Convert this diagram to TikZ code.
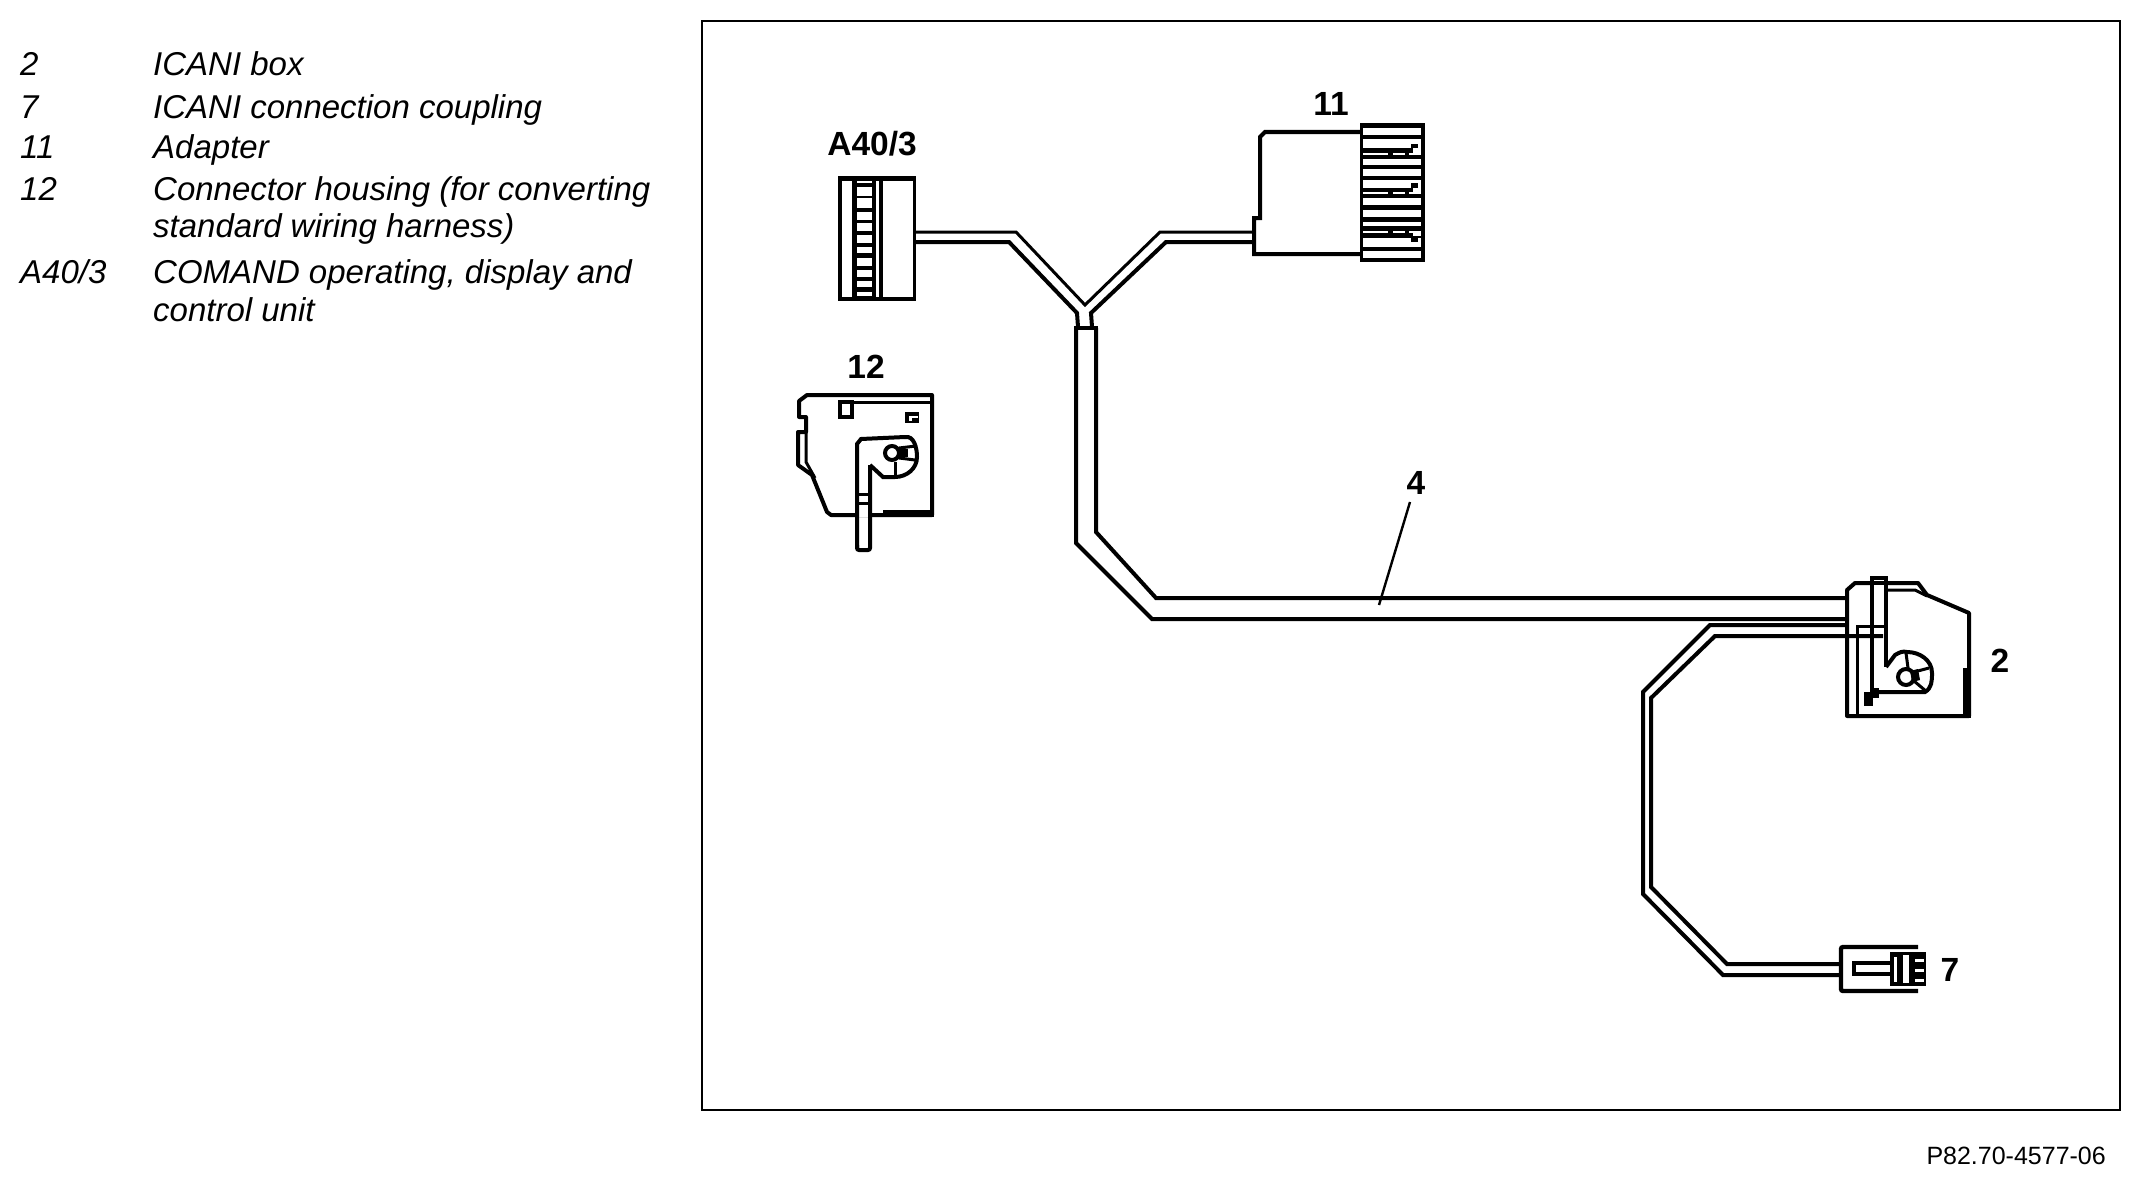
\documentclass[tikz,border=0pt]{standalone}
\usepackage{fontspec}
\setmainfont{Liberation Sans}
\begin{document}
\begin{tikzpicture}[x=1pt,y=-1pt,
  ink/.style={draw=black,line width=4pt,line join=miter,line cap=butt},
  thinink/.style={draw=black,line width=3pt},
  fatink/.style={draw=black,line width=4.4pt},
  legendtxt/.style={anchor=base west,inner sep=0pt,font=\fontsize{33}{33}\selectfont\itshape},
  partlabel/.style={inner sep=0pt,anchor=base,font=\fontsize{33.5}{33}\selectfont\bfseries},
  holes/.style={fill=white,draw=none}]
\useasboundingbox (0,0) rectangle (2140,1180);
\fill[white] (0,0) rectangle (2140,1180);
% legend
\node[legendtxt] (l2a) at (20,76) {2};
\node[legendtxt] (l2b) at (153,76) {ICANI box};
\node[legendtxt] (l7a) at (20,118) {7};
\node[legendtxt] (l7b) at (153,118) {ICANI connection coupling};
\node[legendtxt] (l11a) at (20,158) {11};
\node[legendtxt] (l11b) at (153,158) {Adapter};
\node[legendtxt] (l12a) at (20,200) {12};
\node[legendtxt] (l12b) at (153,200) {Connector housing (for converting};
\node[legendtxt] (l12c) at (153,237) {standard wiring harness)};
\node[legendtxt] (lAa) at (20,283) {A40/3};
\node[legendtxt] (lAb) at (153,283) {COMAND operating, display and};
\node[legendtxt] (lAc) at (153,321) {control unit};
% frame
\draw[black,line width=1.6pt] (702,21) rectangle (2120,1110);
\node[inner sep=0pt,anchor=base east,font=\fontsize{25}{25}\selectfont] (code) at (2106,1164) {P82.70-4577-06};
% part labels
\node[partlabel] (tA) at (872,155) {A40/3};
\node[partlabel] (t11) at (1331,116) {11};
\node[partlabel] (t12) at (866,378) {12};
\node[partlabel] (t4) at (1416,494) {4};
\node[partlabel] (t2) at (2000,672) {2};
\node[partlabel] (t7) at (1950,981) {7};
% A40/3 connector
\fill[black] (838,176) rectangle (916,301);
\fill[holes] (842,181) rectangle (852,297);
\fill[holes] (876,181) rectangle (879,297);
\fill[holes] (883,181) rectangle (913,297);
\foreach \a/\b in {181/183,187/196,198/208,212/220,223/231,235/243,247/253,258/266,270/277,281/287,292/296}
  \fill[holes] (857,\a) rectangle (872,\b);
% A40/3 to junction wire
\coordinate (aU) at (916,232); \coordinate (aL) at (916,242);
\coordinate (bU) at (1254,232); \coordinate (bL) at (1254,242);
\coordinate (jTop) at (1085,305);
\coordinate (jL) at (1078,327); \coordinate (jR) at (1092,327);
\draw[thinink] (aU) -- (1016,232) -- (jTop) -- (1160,232) -- (bU);
\draw[ink] (aL) -- (1009,242) -- (1077,313) -- (jL);
\draw[ink] (bL) -- (1166,242) -- (1091,313) -- (jR);
% adapter 11
\draw[ink] (1363,132) -- (1265,132) -- (1260,137) -- (1260,218) -- (1254,218) -- (1254,254) -- (1363,254);
\fill[black] (1360,123) rectangle (1425,262);
\foreach \a/\b in {128/135,139/148,159/165,169/176,180/188,198/205,210/217,222/226,238/247,251/258}
  \fill[holes] (1363,\a) rectangle (1421,\b);
\foreach \a in {152.5,192,231}{
  \fill[holes] (1363,\a) rectangle (1388,\a+2.2);
  \fill[holes] (1393,\a) rectangle (1405,\a+2.2);
  \fill[holes] (1409,\a) rectangle (1421,\a+2.2);
}
\fill[black] (1411,144) rectangle (1418,148);
\fill[holes] (1413,148) rectangle (1421,155);
\fill[black] (1411,183) rectangle (1418,188);
\fill[holes] (1413,188) rectangle (1421,194);
\fill[holes] (1413,231) rectangle (1421,236);
\fill[black] (1411,236) rectangle (1418,242);
% main wire
\coordinate (wL) at (1076,328); \coordinate (wR) at (1096,328);
\draw[ink,line cap=rect] (wL) -- (wR);
\draw[ink] (wL) -- (1076,543) -- (1152,619) -- (1848,619);
\draw[ink] (wR) -- (1096,532) -- (1156,598) -- (1848,598);
% leader 4
\coordinate (lead0) at (1410,502); \coordinate (lead1) at (1379,605);
\draw[black,line width=2.4pt] (lead0) -- (lead1);
% wire to 7
\draw[ink] (1848,625) -- (1710,625) -- (1643,692) -- (1643,894) -- (1723,975) -- (1841,975);
\draw[ink] (1883,636) -- (1715,636) -- (1651,698) -- (1651,887) -- (1727,964) -- (1841,964);
% connector 7
\draw[fatink,rounded corners=2pt] (1918,947) -- (1841,947) -- (1841,991) -- (1918,991);
\draw[ink] (1892,963) -- (1854,963) -- (1854,974) -- (1892,974);
\fill[black] (1890,952) rectangle (1926,986);
\fill[holes] (1894,957) rectangle (1897,982);
\fill[holes] (1903,955) rectangle (1909,983);
\foreach \a in {959,969,979}
  \fill[holes] (1915,\a) rectangle (1924,\a+3);
% housing 12
\draw[ink,line join=round] (932,395) -- (807,395) -- (799,401) -- (799,417) -- (806,417) -- (806,432) -- (798,432) -- (798,465) -- (812,475) -- (827,512) -- (831,515) -- (932,515) -- cycle;
\draw[thinink] (806,432) -- (806,462) -- (815,478);
\draw[thinink] (852,402) -- (930,402);
\fill[black] (883,510) rectangle (934,517);
\fill[holes] (859,470) rectangle (868,517);
\draw[ink] (840,402) rectangle (852,417);
\fill[black] (905,412) rectangle (919,423);
\fill[holes] (909,416) rectangle (918,418);
\fill[holes] (909,416) rectangle (912,421);
\draw[ink] (857,548) -- (857,444) -- (861,439) -- (905,437);
\draw[ink,rounded corners=2pt] (857,545) -- (857,550) -- (870,550) -- (870,465);
\draw[ink] (905,437) to[out=10,in=90] (917,457) to[out=-90,in=0] (895,477) -- (883,477) -- (870,465);
\draw[ink] (892,453) circle[radius=7];
\draw[thinink] (895,462) -- (895,476);
\draw[thinink] (899,448) -- (916,446);
\draw[thinink] (899,458) -- (915,460);
\fill[black] (900,449) rectangle (908,457);
\draw[thinink] (857,494) -- (870,494);
\draw[thinink] (857,503) -- (870,503);
% ICANI box 2
\draw[ink,line join=round] (1847,716) -- (1847,590) -- (1855,583) -- (1918,583) -- (1927,595) -- (1969,613) -- (1969,716) -- cycle;
\fill[black] (1963,668) rectangle (1971,718);
\draw[thinink] (1887,590) -- (1915,590) -- (1927,596);
\draw[thinink] (1857,716) -- (1857,626) -- (1884,626);
\fill[holes] (1874,585) rectangle (1884,590);
\draw[ink] (1872,690) -- (1872,578) -- (1886,578) -- (1886,667);
\draw[ink] (1886,667) -- (1895,655) to[out=30,in=165] (1907,652) to[out=0,in=90] (1932,673) to[out=-90,in=30] (1925,692) -- (1877,692);
\draw[ink] (1906,677) circle[radius=8];
\draw[thinink] (1914,672) -- (1929,668);
\draw[thinink] (1914,681) -- (1927,692);
\draw[thinink] (1908,668) -- (1906,653);
\fill[black] (1910,671) -- (1918,669) -- (1920,680) -- (1912,682) -- cycle;
\fill[black] (1864,692) rectangle (1873,706);
\fill[black] (1870,688) rectangle (1879,698);
\end{tikzpicture}
\end{document}
